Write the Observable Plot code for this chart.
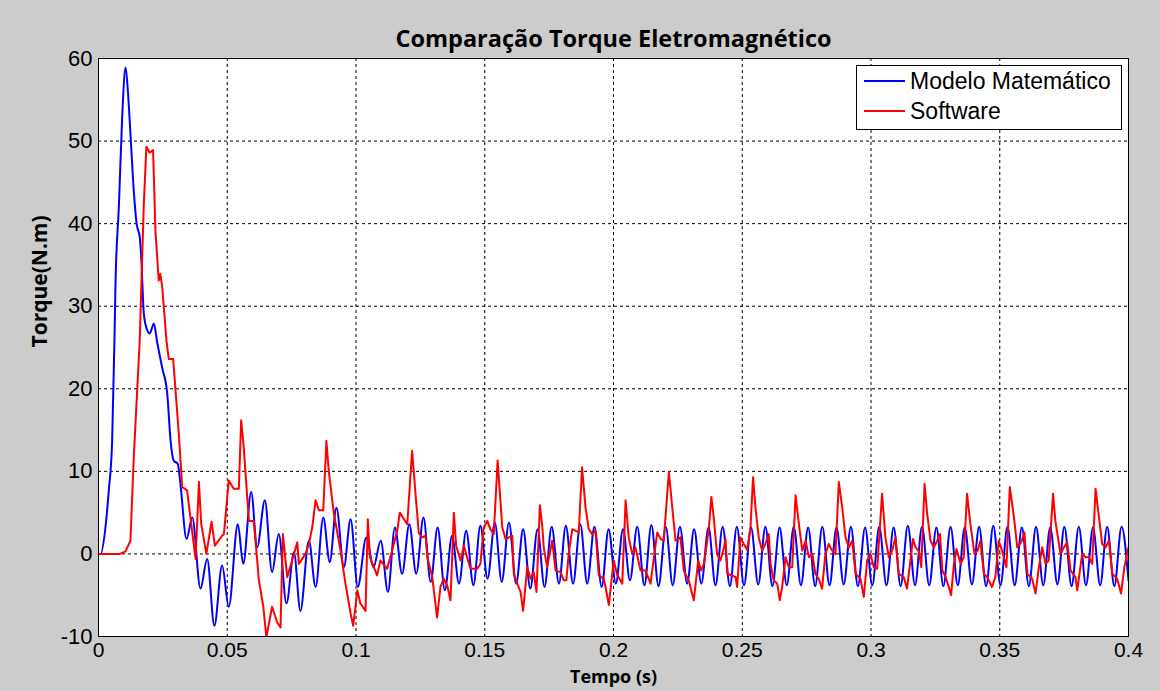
<!DOCTYPE html>
<html>
<head>
<meta charset="utf-8">
<script src="https://cdn.jsdelivr.net/npm/d3@7"></script>
<script src="https://cdn.jsdelivr.net/npm/@observablehq/plot@0.6"></script>
<style>
  html, body { margin: 0; padding: 0; background: #cccccc; }
  #chart { width: 1160px; height: 691px; }
</style>
</head>
<body>
<div id="chart"></div>
<script>
// ---------- chart data ----------
const titleText = "Comparação Torque Eletromagnético";
const xLabelText = "Tempo (s)";
const yLabelText = "Torque(N.m)";
const seriesNames = ["Modelo Matemático", "Software"];
const seriesColors = ["#0000ff", "#ff0000"];
const xTicks = [0, 0.05, 0.1, 0.15, 0.2, 0.25, 0.3, 0.35, 0.4];
const yTicks = [-10, 0, 10, 20, 30, 40, 50, 60];

// Modelo Matemático: [tempo (s), torque (N.m)]
const modeloPts = [
  [0,0],[0.0008,0],[0.0027,3.2],[0.0040,7.7],[0.0053,13.7],[0.0062,25.9],[0.0066,32.7],[0.0079,42.0],
  [0.0092,52.9],[0.0105,58.9],[0.0114,56.1],[0.0124,50.9],[0.0137,44.0],[0.0148,40.0],[0.0160,38.4],
  [0.0166,35.9],[0.0176,29.1],[0.0189,27.1],[0.0199,26.7],[0.0215,27.9],[0.0228,25.6],[0.0247,22.6],
  [0.0267,19.4],[0.0280,13.7],[0.0292,11.3],[0.0308,10.9],[0.0318,8.5],[0.0342,1.8],[0.0364,4.4],
  [0.0396,-4.2],[0.0422,-0.6],[0.0450,-8.7],[0.0480,-1.4],[0.0506,-6.4],[0.0541,3.6],[0.0562,-1.2],
  [0.0593,7.5],[0.0616,0.8],[0.0646,6.5],[0.0674,-2.2],[0.0700,2.4],[0.0730,-6.0],[0.0759,0.2],
  [0.0784,-6.9],[0.0817,1.6],[0.0843,-4.0],[0.0873,4.4],[0.0898,-1.0],[0.0924,5.6],[0.0953,-1.6],
  [0.0979,4.2],[0.1007,-4.0],[0.1040,2.0],[0.1068,-1.6],[0.1096,1.6],[0.1124,-4.6],[0.1151,3.2],
  [0.1179,-2.4],[0.1207,3.6],[0.1234,-2.4],[0.1262,4.4],[0.1290,-3.4],[0.1317,3.2],[0.1345,-4.4],
  [0.1373,2.2],[0.1400,-3.6],[0.1428,2.8],[0.1456,-3.8],[0.1483,3.4],[0.1511,-3.0],[0.1539,3.8],
  [0.1566,-3.4],[0.1594,3.8],[0.1622,-3.6],[0.1649,3.0],[0.1677,-4.2],[0.1705,3.0],[0.1732,-4.0],
  [0.1760,3.3],[0.1788,-3.6],[0.1815,3.4],[0.1843,-3.6],[0.1871,3.6],[0.1898,-3.6],[0.1926,3.3],
  [0.1954,-4.0],[0.1981,3.0],[0.2009,-3.6],[0.2037,3.0],[0.2064,-3.2],[0.2092,3.3],[0.2120,-3.8],
  [0.2147,3.5],[0.2175,-3.9],[0.2203,3.3],[0.2230,-3.8],[0.2258,3.3],[0.2286,-3.6],[0.2313,3.0],
  [0.2341,-3.6],[0.2369,3.2],[0.2396,-3.8],[0.2424,3.3],[0.2452,-3.9],[0.2479,3.3],[0.2507,-3.8],
  [0.2534,3.2],[0.2562,-3.7],[0.2590,3.3],[0.2617,-3.9],[0.2645,3.2],[0.2673,-3.8],[0.2700,3.3],
  [0.2728,-3.8],[0.2756,3.2],[0.2783,-3.9],[0.2811,3.3],[0.2839,-3.8],[0.2866,3.2],[0.2894,-3.7],
  [0.2922,3.3],[0.2949,-3.9],[0.2977,3.2],[0.3005,-3.8],[0.3032,3.3],[0.3060,-3.8],[0.3088,3.2],
  [0.3115,-3.9],[0.3143,3.4],[0.3171,-3.8],[0.3198,3.3],[0.3226,-3.8],[0.3254,3.2],[0.3281,-3.9],
  [0.3309,3.3],[0.3337,-3.8],[0.3364,3.2],[0.3392,-3.7],[0.3420,3.3],[0.3447,-3.9],[0.3475,3.4],
  [0.3503,-3.8],[0.3530,3.3],[0.3558,-3.8],[0.3586,3.2],[0.3613,-3.9],[0.3641,3.3],[0.3669,-3.8],
  [0.3696,3.2],[0.3724,-3.7],[0.3751,3.3],[0.3779,-3.9],[0.3807,3.3],[0.3835,-3.8],[0.3862,3.2],
  [0.3890,-3.8],[0.3917,3.3],[0.3945,-3.9],[0.3973,3.3],[0.4000,-3.2]
];

// Software: [tempo (s), torque (N.m)]
const softwarePts = [
  [0,0],[0.0083,0],[0.0105,0.3],[0.0124,1.6],[0.0137,11.7],[0.0160,25.8],[0.0176,42.4],[0.0186,49.3],
  [0.0199,48.6],[0.0212,48.9],[0.0221,39.2],[0.0234,33.1],[0.0240,33.9],[0.0247,32.5],[0.0264,25.8],
  [0.0273,23.6],[0.0290,23.6],[0.0312,14.5],[0.0325,8.1],[0.0344,7.7],[0.0357,4.4],[0.0377,-0.6],
  [0.0390,8.7],[0.0399,3.6],[0.0419,0.0],[0.0439,3.9],[0.0452,1.0],[0.0480,2.2],[0.0487,2.4],
  [0.0506,8.9],[0.0525,7.9],[0.0545,7.9],[0.0554,16.2],[0.0564,12.9],[0.0584,4.0],[0.0603,4.0],
  [0.0623,-3.2],[0.0640,-6.4],[0.0652,-10.1],[0.0674,-6.4],[0.0694,-8.3],[0.0707,-8.9],[0.0716,2.4],
  [0.0733,-2.8],[0.0752,-0.8],[0.0772,1.4],[0.0778,-1.2],[0.0804,0.0],[0.0817,1.2],[0.0830,3.2],
  [0.0843,6.5],[0.0856,5.3],[0.0873,5.3],[0.0885,13.7],[0.0894,10.1],[0.0914,4.9],[0.0940,0.4],
  [0.0959,-3.6],[0.0979,-7.2],[0.0989,-8.7],[0.0998,-6.4],[0.1005,-4.4],[0.1017,-6.0],[0.1037,-6.9],
  [0.1046,4.2],[0.1054,-0.4],[0.1082,-2.6],[0.1095,-0.8],[0.1121,-1.8],[0.1141,0.5],[0.1160,2.8],
  [0.1170,5.0],[0.1199,3.6],[0.1218,12.5],[0.1231,7.3],[0.1244,2.5],[0.1257,2.0],[0.1270,2.2],
  [0.1277,-0.4],[0.1296,-2.8],[0.1315,-7.7],[0.1328,-4.0],[0.1341,-3.0],[0.1354,-3.8],[0.1367,-5.6],
  [0.1380,5.0],[0.1389,1.0],[0.1406,-0.8],[0.1419,1.0],[0.1432,-0.5],[0.1445,-1.8],[0.1471,-1.8],
  [0.1483,-1.2],[0.1496,3.2],[0.1510,4.0],[0.1522,3.0],[0.1535,2.4],[0.1550,11.3],[0.1558,7.7],
  [0.1568,3.2],[0.1581,1.8],[0.1607,2.2],[0.1613,-2.4],[0.1626,-3.6],[0.1639,-4.6],[0.1649,-6.9],
  [0.1665,-1.6],[0.1678,-3.0],[0.1690,-2.2],[0.1701,-4.6],[0.1714,5.9],[0.1723,3.5],[0.1729,0.8],
  [0.1742,-1.6],[0.1762,1.6],[0.1775,-2.0],[0.1794,-2.2],[0.1807,-3.2],[0.1817,-3.2],[0.1826,0.0],
  [0.1840,3.0],[0.1865,2.6],[0.1878,10.5],[0.1891,5.7],[0.1904,3.0],[0.1917,2.4],[0.1930,2.8],
  [0.1943,-2.6],[0.1962,-3.0],[0.1969,-4.0],[0.1982,-6.2],[0.1995,-2.4],[0.2001,-0.8],[0.2014,-2.5],
  [0.2034,-3.6],[0.2047,6.5],[0.2059,2.0],[0.2073,0.0],[0.2085,0.8],[0.2105,-2.0],[0.2124,-2.0],
  [0.2144,-3.6],[0.2157,-0.4],[0.2170,2.6],[0.2183,1.8],[0.2195,1.6],[0.2215,9.9],[0.2228,5.7],
  [0.2241,1.6],[0.2260,2.0],[0.2273,-2.0],[0.2292,-3.2],[0.2312,-5.6],[0.2329,-0.8],[0.2340,-2.0],
  [0.2351,-1.2],[0.2364,1.6],[0.2370,3.0],[0.2380,6.9],[0.2389,4.5],[0.2402,0.0],[0.2415,-0.8],
  [0.2429,0.8],[0.2435,1.8],[0.2442,-2.4],[0.2474,-2.8],[0.2480,-4.0],[0.2493,2.0],[0.2506,1.2],
  [0.2519,0.5],[0.2532,3.2],[0.2542,9.3],[0.2551,5.7],[0.2564,2.0],[0.2577,0.4],[0.2590,1.2],
  [0.2603,2.4],[0.2610,-1.2],[0.2622,-3.2],[0.2636,-3.6],[0.2646,-5.6],[0.2655,-4.0],[0.2668,-0.4],
  [0.2681,-1.6],[0.2694,-1.6],[0.2707,7.1],[0.2720,3.6],[0.2733,0.4],[0.2746,1.6],[0.2759,-0.4],
  [0.2772,0.0],[0.2784,-2.4],[0.2797,-3.0],[0.2810,-4.2],[0.2823,0.0],[0.2836,1.2],[0.2849,0.4],
  [0.2862,0.0],[0.2875,8.7],[0.2888,5.7],[0.2901,2.0],[0.2914,0.8],[0.2927,1.6],[0.2940,-2.4],
  [0.2959,-3.0],[0.2972,-5.2],[0.2985,-0.8],[0.2998,0.0],[0.3011,-1.6],[0.3024,-1.8],[0.3043,7.3],
  [0.3056,2.0],[0.3069,-0.4],[0.3082,0.4],[0.3095,2.0],[0.3108,-2.4],[0.3127,-2.8],[0.3140,-4.2],
  [0.3153,-0.8],[0.3163,1.8],[0.3173,0.8],[0.3186,0.3],[0.3195,-1.6],[0.3208,8.5],[0.3218,4.9],
  [0.3231,1.6],[0.3244,0.8],[0.3257,1.6],[0.3268,2.4],[0.3277,-2.0],[0.3290,-2.8],[0.3302,-4.0],
  [0.3311,-5.0],[0.3322,-1.2],[0.3332,0.6],[0.3348,-1.2],[0.3360,-0.4],[0.3373,7.3],[0.3386,3.6],
  [0.3402,0.0],[0.3414,0.4],[0.3425,1.6],[0.3438,-2.4],[0.3451,-2.8],[0.3470,-4.0],[0.3483,-2.8],
  [0.3496,1.6],[0.3509,0.4],[0.3526,-1.6],[0.3539,8.1],[0.3555,4.5],[0.3568,0.8],[0.3583,1.4],
  [0.3596,2.6],[0.3607,-2.4],[0.3626,-3.0],[0.3639,-4.8],[0.3652,-1.6],[0.3665,0.8],[0.3678,-1.2],
  [0.3690,-0.8],[0.3707,7.3],[0.3716,4.0],[0.3736,0.0],[0.3749,0.8],[0.3762,1.4],[0.3775,-2.0],
  [0.3794,-2.8],[0.3801,-4.4],[0.3820,0.0],[0.3833,-0.4],[0.3846,-0.4],[0.3859,-1.2],[0.3872,7.9],
  [0.3885,4.5],[0.3898,1.2],[0.3911,0.8],[0.3924,1.6],[0.3937,-2.4],[0.3956,-3.0],[0.3971,-4.8],
  [0.3984,-1.6],[0.4000,0.8]
];

// ---------- build ----------
const modelo = modeloPts.map(([t, v]) => ({t, v}));
const software = softwarePts.map(([t, v]) => ({t, v}));

const fmtX = d => String(+d.toFixed(2));
const fmtY = d => String(d);

const plot = Plot.plot({
  width: 1160,
  height: 691,
  marginLeft: 98,
  marginRight: 32,
  marginTop: 58,
  marginBottom: 55,
  style: {background: "#cccccc", color: "black", fontFamily: "'Liberation Sans', Arial, sans-serif"},
  x: {domain: [0, 0.4]},
  y: {domain: [-10, 60]},
  marks: [
    Plot.frame({fill: "white", stroke: "none"}),
    Plot.gridX(xTicks, {stroke: "#000", strokeOpacity: 1, strokeWidth: 1, strokeDasharray: "3,3"}),
    Plot.gridY(yTicks, {stroke: "#000", strokeOpacity: 1, strokeWidth: 1, strokeDasharray: "3,3"}),
    Plot.axisX(xTicks, {tickSize: 0, tickPadding: 6, tickFormat: fmtX, fontSize: 21, label: null}),
    Plot.axisY(yTicks, {tickSize: 0, tickPadding: 6, tickFormat: fmtY, fontSize: 22, label: null}),
    Plot.line(modelo, {x: "t", y: "v", stroke: seriesColors[0], strokeWidth: 2, curve: "monotone-x", clip: true}),
    Plot.line(software, {x: "t", y: "v", stroke: seriesColors[1], strokeWidth: 2, clip: true}),
    Plot.frame({stroke: "#000", strokeWidth: 1}),
    Plot.text([titleText], {text: d => d, frameAnchor: "top", dy: -28, fontSize: 23.5, fontWeight: "bold", fontFamily: "'Open Sans', sans-serif", fill: "#000"}),
    Plot.text([xLabelText], {text: d => d, frameAnchor: "bottom", dy: 46, fontSize: 18, fontWeight: "bold", fontFamily: "'Open Sans', sans-serif", fill: "#000"}),
    Plot.text([yLabelText], {text: d => d, frameAnchor: "left", dx: -58, rotate: -90, fontSize: 21, fontWeight: "bold", fontFamily: "'Open Sans', sans-serif", fill: "#000"})
  ]
});

// legend (top-right box, MATLAB style)
const svg = d3.select(plot);
const lg = svg.append("g")
  .attr("font-family", "'Liberation Sans', Arial, sans-serif")
  .attr("font-size", 23)
  .attr("text-anchor", "start");
lg.append("rect").attr("x", 856.5).attr("y", 65.5).attr("width", 265).attr("height", 64)
  .attr("fill", "white").attr("stroke", "black").attr("stroke-width", 1);
seriesNames.forEach((name, i) => {
  const y = 81 + i * 30;
  lg.append("line").attr("x1", 864).attr("x2", 905).attr("y1", y).attr("y2", y)
    .attr("stroke", seriesColors[i]).attr("stroke-width", 2);
  lg.append("text").attr("x", 910).attr("y", y).attr("dy", "0.35em")
    .attr("text-anchor", "start").attr("fill", "black").text(name);
});

document.getElementById("chart").appendChild(plot);
</script>
</body>
</html>
